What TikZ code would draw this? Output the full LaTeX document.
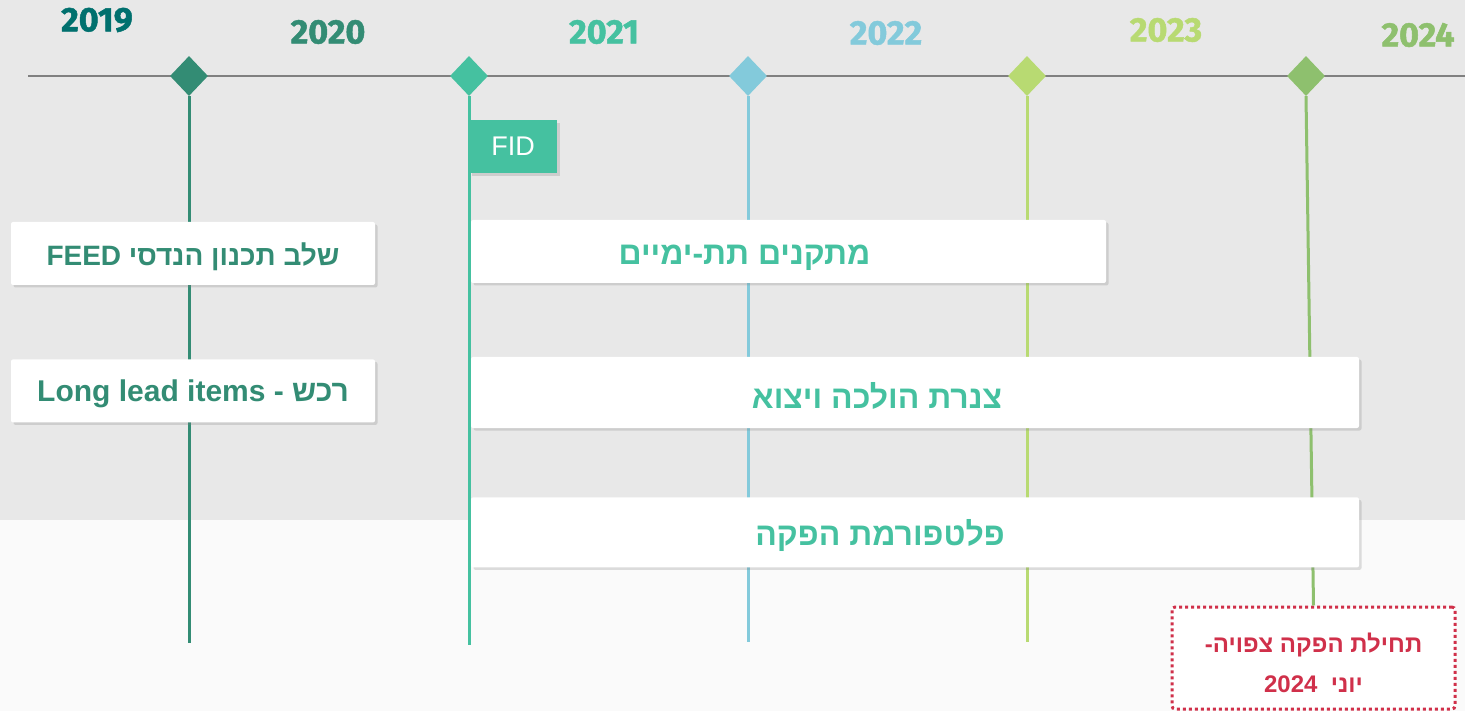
\documentclass[tikz,border=0pt]{standalone}
\usepackage{fontspec}
\setmainfont{Liberation Sans}
\newfontfamily\hebfont[Script=Hebrew]{Liberation Sans}
\newfontfamily\yearfont[BoldFeatures={FakeBold=1.5}]{Fira Sans}
\usepackage{xcolor}
\usetikzlibrary{shadows,positioning,shapes.geometric}
\TeXXeTstate=1

\definecolor{bgtop}{HTML}{E8E8E8}
\definecolor{bgbot}{HTML}{FAFAFA}
\definecolor{axisgray}{HTML}{808080}
\definecolor{yrA}{HTML}{00706E}
\definecolor{yrB}{HTML}{338C74}
\definecolor{yrC}{HTML}{45C1A0}
\definecolor{yrD}{HTML}{83CADB}
\definecolor{yrE}{HTML}{B8DA72}
\definecolor{yrF}{HTML}{8EC06E}
\definecolor{startred}{HTML}{D0304A}

\begin{document}
\begin{tikzpicture}[x=1pt, y=-1pt,
  year/.style={text=#1, font=\yearfont\bfseries\fontsize{34}{34}\selectfont},
  milestone/.style={diamond, fill=#1, minimum width=38pt, minimum height=40pt, inner sep=0pt},
  phase/.style={draw=#1, line width=3pt},
  task/.style={fill=white, rounded corners=2pt, inner sep=0pt,
    drop shadow={shadow xshift=2.5pt, shadow yshift=-2.5pt, opacity=0.25}},
  tasktext/.style={text=#1, yshift=-3pt, font=\hebfont\bfseries\fontsize{28}{28}\selectfont},
  bigtext/.style={tasktext=#1, font=\hebfont\bfseries\fontsize{32}{32}\selectfont}]

  % Background bands
  \useasboundingbox (0,0) rectangle (1465,711);
  \fill[bgtop] (0,0) rectangle (1465,520);
  \fill[bgbot] (0,520) rectangle (1465,711);

  % Timeline axis
  \coordinate (axisL) at (28,76);
  \coordinate (axisR) at (1465,76);
  \draw[axisgray, line width=1.5pt] (axisL) -- (axisR);

  % Years
  \node[year=yrA] (y19) at (97,20) {2019};
  \node[year=yrB] (y20) at (328,32) {2020};
  \node[year=yrC] (y21) at (604,32) {2021};
  \node[year=yrD] (y22) at (886,33) {2022};
  \node[year=yrE] (y23) at (1166,30) {2023};
  \node[year=yrF] (y24) at (1418,35) {2024};

  % Milestones and their lines
  \foreach \n/\x/\c in {20/189/yrB, 21/469/yrC, 22/748/yrD, 23/1027/yrE, 24/1306/yrF}
    \node[milestone=\c] (m\n) at (\x,76) {};
  \coordinate (e20) at (189,643);
  \coordinate (e21) at (469,645);
  \coordinate (e22) at (748,642);
  \coordinate (e23) at (1027,642);
  \draw[phase=yrB] (m20.south) -- (e20);
  \draw[phase=yrC] (m21.south) -- (e21);
  \draw[phase=yrD] (m22.south) -- (e22);
  \draw[phase=yrE] (m23.south) -- (e23);

  % Expected start of production
  \node[draw=startred, line width=3pt, dash pattern=on 3pt off 3pt, fill=white,
    rounded corners=3pt, minimum width=283pt, minimum height=102pt]
    (start) at (1313.5,658) {};
  \node[text=startred, align=center, font=\hebfont\bfseries\fontsize{24}{40}\selectfont,
    yshift=-5pt] at (start.center)
    {\beginR תחילת הפקה צפויה-\endR\\ \beginR יוני \ \beginL 2024\endL\endR};
  \draw[phase=yrF] (m24.south) -- (start.north);

  % FID tag
  \node[fill=yrC, inner sep=0pt, minimum width=88pt, minimum height=53pt, anchor=north west,
    text=white, font=\fontsize{27}{27}\selectfont,
    drop shadow={shadow xshift=2.5pt, shadow yshift=-2.5pt, opacity=0.25}]
    (fid) at (469,120) {FID};

  % Work packages
  \node[task, minimum width=364pt, minimum height=63pt] (feed) at (193,253.5) {};
  \node[tasktext=yrB] at (feed.center) {\beginR שלב תכנון הנדסי \beginL FEED\endL\endR};
  \node[task, minimum width=364pt, minimum height=63pt, below=74pt of feed] (lli) {};
  \node[tasktext=yrB, font=\hebfont\bfseries\fontsize{30}{30}\selectfont] at (lli.center)
    {\beginR רכש - \beginL Long lead items\endL\endR};

  \node[task, minimum width=635pt, minimum height=63pt] (subsea) at (788.5,251.5) {};
  \node[bigtext=yrC] at ([xshift=-44pt, yshift=-3pt]subsea.center) {\beginR מתקנים תת-ימיים\endR};
  \node[task, minimum width=888pt, minimum height=71pt] (pipe) at (915,392.5) {};
  \node[bigtext=yrC] at ([xshift=-38pt]pipe.center) {\beginR צנרת הולכה ויצוא\endR};
  \node[task, minimum width=888pt, minimum height=70pt, below=69pt of pipe] (platf) {};
  \node[bigtext=yrC] at ([xshift=-35pt]platf.center) {\beginR פלטפורמת הפקה\endR};
\end{tikzpicture}
\end{document}
